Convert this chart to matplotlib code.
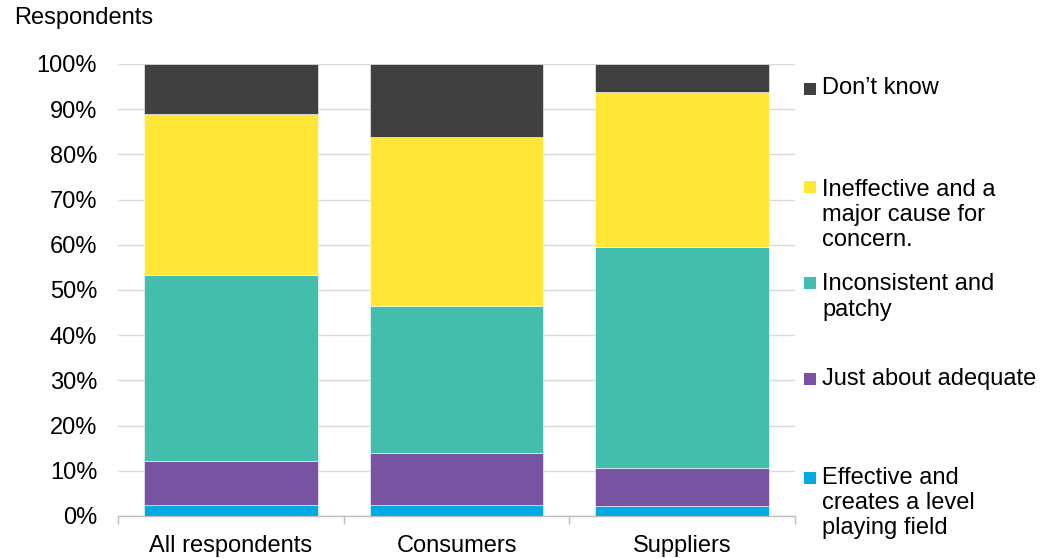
import matplotlib
matplotlib.use("Agg")
import matplotlib.pyplot as plt
from matplotlib.patches import Rectangle
import numpy as np

plt.rcParams['font.family'] = ['Liberation Sans', 'DejaVu Sans']

categories = ["All respondents", "Consumers", "Suppliers"]
series_names = [
    "Effective and\ncreates a level\nplaying field",
    "Just about adequate",
    "Inconsistent and\npatchy",
    "Ineffective and a\nmajor cause for\nconcern.",
    "Don\u2019t know",
]
effective = [2.4, 2.4, 2.2]
adequate = [9.8, 11.6, 8.5]
inconsistent = [41.2, 32.5, 48.9]
ineffective = [35.5, 37.3, 34.1]
dont_know = [11.1, 16.2, 6.3]
colors = ["#00ABE3", "#7853A2", "#44BEAC", "#FFE637", "#404040"]
yticks = [0, 10, 20, 30, 40, 50, 60, 70, 80, 90, 100]

W, H = 1054, 558
fig = plt.figure(figsize=(W / 100, H / 100), dpi=100)
ax = fig.add_axes([118 / W, 1 - 516 / H, (795 - 118) / W, (516 - 64) / H])

series = [effective, adequate, inconsistent, ineffective, dont_know]
x = np.arange(len(categories))
bottom = np.zeros(len(categories))
for vals, c in zip(series, colors):
    v = np.array(vals)
    ax.bar(x, v, bottom=bottom, width=0.77, color=c, edgecolor='white',
           linewidth=0.4, zorder=3)
    bottom += v

ax.set_xlim(-0.5, len(categories) - 0.5)
ax.set_ylim(0, 100)
ax.set_yticks(yticks)
ax.set_yticklabels([f"{t}%" for t in yticks])
ax.yaxis.grid(True, color="#d9d9d9", linewidth=1.0, zorder=0)
ax.set_axisbelow(True)
ax.tick_params(axis='y', length=0, pad=15, labelsize=17, colors='black')

ax.set_xticks(x)
ax.set_xticklabels(categories)
ax.set_xticks(np.arange(-0.5, len(categories)), minor=True)
ax.tick_params(axis='x', which='major', length=0, pad=14, labelsize=17)
ax.tick_params(axis='x', which='minor', length=6, color="#bfbfbf", width=1)

for s in ['top', 'right', 'left']:
    ax.spines[s].set_visible(False)
ax.spines['bottom'].set_color("#bfbfbf")
ax.spines['bottom'].set_linewidth(1)

fig.text(14 / W, 1 - 18 / H, "Respondents", fontsize=17, va='center', ha='left')

# legend (manual placement to match reference)
legend_order = [4, 3, 2, 1, 0]
marker_y = [88.5, 186.5, 283, 378.5, 478]
text_y = [88, 215, 297, 379, 503]
for idx, my, ty in zip(legend_order, marker_y, text_y):
    fig.patches.append(Rectangle((804 / W, 1 - (my + 6) / H), 12 / W, 12 / H,
                                 transform=fig.transFigure, facecolor=colors[idx],
                                 edgecolor='none'))
    fig.text(822 / W, 1 - ty / H, series_names[idx], fontsize=17, va='center',
             ha='left', linespacing=1.2)

fig.savefig("out.png", dpi=100)
